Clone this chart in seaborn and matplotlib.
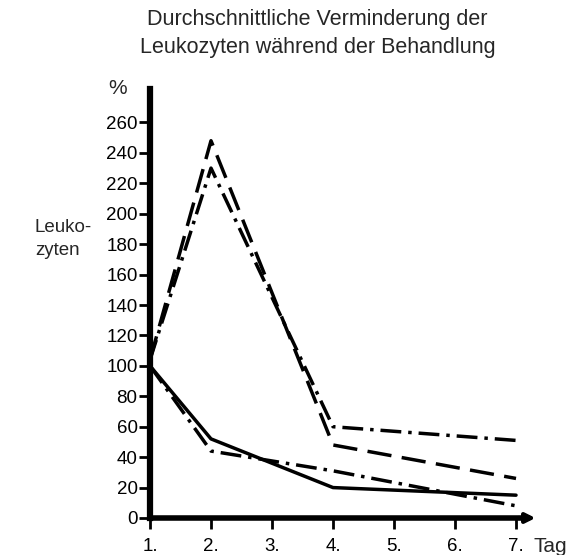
import matplotlib
matplotlib.use('Agg')
import matplotlib.pyplot as plt
import pandas as pd
import seaborn as sns

# Werte (Tage 1, 2, 4, 7)
tage = [1, 2, 4, 7]
gestrichelt = [104, 248, 48, 26]
strichpunkt_oben = [104, 230, 60, 51]
durchgezogen = [100, 52, 20, 15]
strichpunkt_unten = [100, 44, 31, 8]

x_ticks = [1, 2, 3, 4, 5, 6, 7]
x_labels = ['1.', '2.', '3.', '4.', '5.', '6.', '7.']
y_ticks = list(range(0, 261, 20))

# langes Format fuer seaborn
df = pd.DataFrame({
    'Tag': tage * 4,
    'Wert': gestrichelt + strichpunkt_oben + durchgezogen + strichpunkt_unten,
    'Reihe': ['a'] * 4 + ['b'] * 4 + ['c'] * 4 + ['d'] * 4,
})

sns.set_style('white')
plt.rcParams['font.family'] = ['Liberation Sans', 'DejaVu Sans']

fig = plt.figure(figsize=(5.71, 5.55), dpi=100)
ax = fig.add_axes([150 / 571, 1 - 518 / 555, 377 / 571, 429 / 555])

strichmuster = {
    'a': (7, 3),
    'b': (6, 2, 1, 2),
    'c': '',
    'd': (6, 2, 1, 2),
}
sns.lineplot(data=df, x='Tag', y='Wert', style='Reihe', dashes=strichmuster,
             color='black', linewidth=2.5, legend=False, ax=ax)

ax.set_xlim(1, 7.18)
ax.set_ylim(0, 282)
ax.set_xticks(x_ticks)
ax.set_xticklabels(x_labels)
ax.set_yticks(y_ticks)
ax.set_xlabel('')
ax.set_ylabel('')

for s in ['top', 'right']:
    ax.spines[s].set_visible(False)
ax.spines['left'].set_linewidth(4.5)
ax.spines['bottom'].set_linewidth(4)
ax.spines['left'].set_color('black')
ax.spines['bottom'].set_color('black')

ax.tick_params(axis='y', direction='out', length=8, width=2, pad=1,
               labelsize=13.5, colors='black', left=True)
ax.tick_params(axis='x', direction='out', length=8, width=2, pad=6.5,
               labelsize=13.5, colors='black', bottom=True)

# Pfeilspitze an der x-Achse
ax.annotate('', xy=(1.03, 0), xycoords='axes fraction', xytext=(0.97, 0),
            arrowprops=dict(arrowstyle='-|>', color='black', lw=3,
                            mutation_scale=14), annotation_clip=False)

fig.text(127 / 571, 1 - 89 / 555, '%', fontsize=15, ha='right', va='center')
fig.text(35 / 571, 1 - 239 / 555, 'Leuko-\nzyten', fontsize=13.5,
         ha='left', va='center', linespacing=1.45)
fig.text(533 / 571, 1 - 546 / 555, 'Tag', fontsize=15, ha='left', va='center')

fig.text(317 / 571, 1 - 20 / 555, 'Durchschnittliche Verminderung der',
         fontsize=15.5, ha='center', va='center')
fig.text(318 / 571, 1 - 47 / 555, 'Leukozyten während der Behandlung',
         fontsize=15.5, ha='center', va='center')

fig.savefig('out.png', dpi=100)
